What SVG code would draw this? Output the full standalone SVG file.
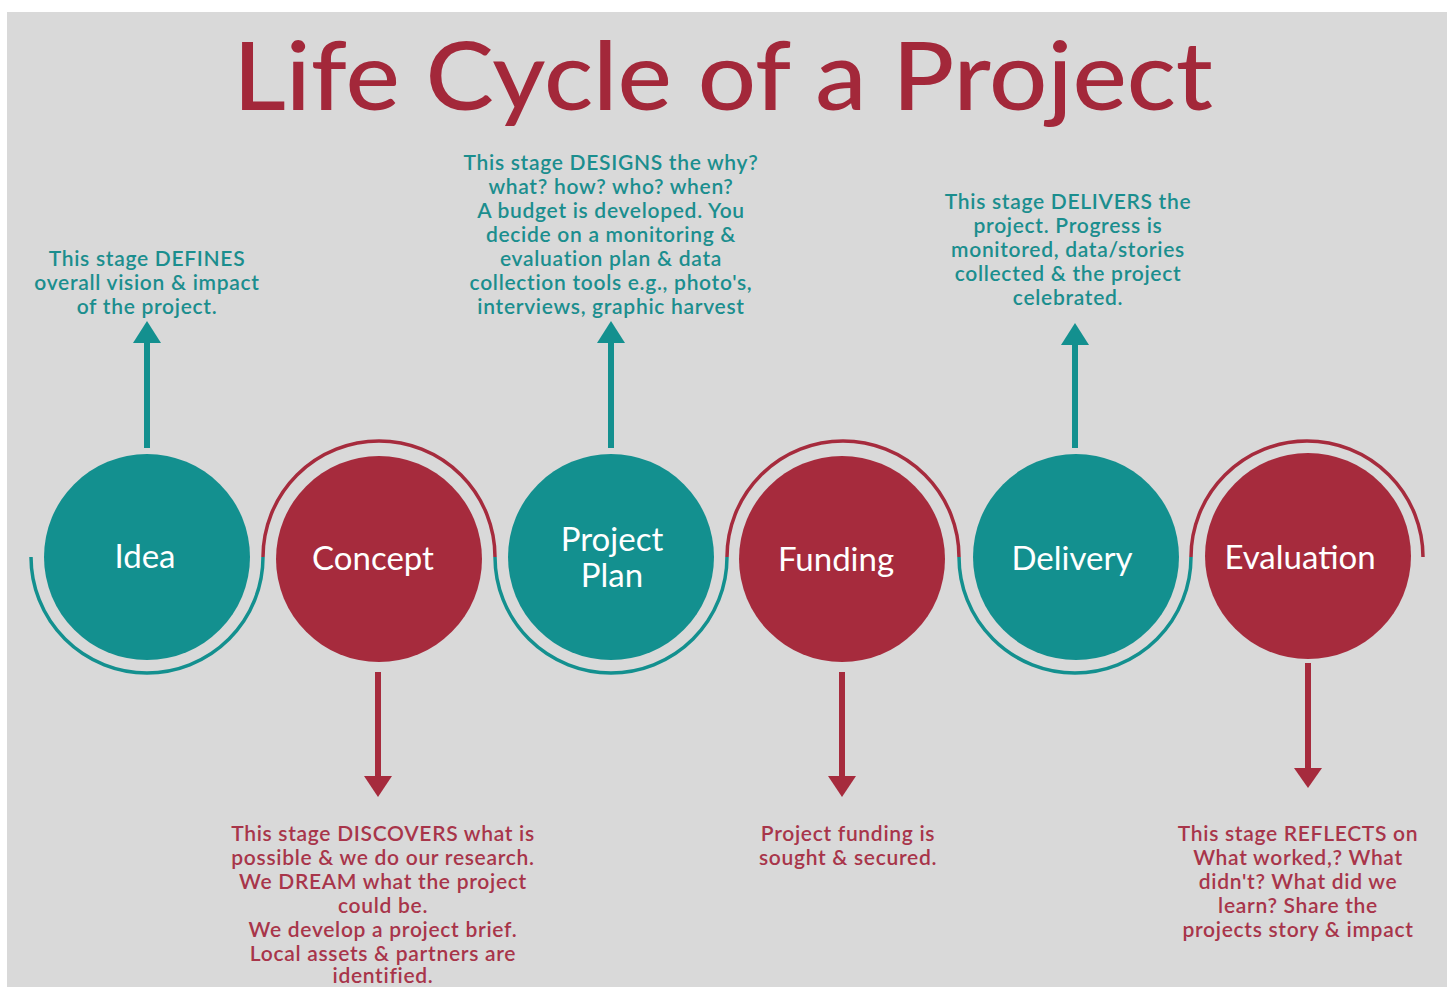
<svg xmlns="http://www.w3.org/2000/svg" width="1452" height="987" viewBox="0 0 1452 987">
<style>
.teal{fill:#13908f}
.red{fill:#a62b3d}
.arcT{fill:none;stroke:#13908f;stroke-width:3.5}
.arcR{fill:none;stroke:#a62b3d;stroke-width:3.5}
.lbl{font-family:Lato,"Open Sans",sans-serif;font-size:33px;fill:#ffffff;text-anchor:middle}
.dt{font-family:Lato,"Noto Sans",sans-serif;font-size:21px;font-weight:600;letter-spacing:0.7px;fill:#1b8e8e;text-anchor:middle}
.dr{font-family:Lato,"Noto Sans",sans-serif;font-size:21px;font-weight:600;letter-spacing:0.7px;fill:#a8354a;text-anchor:middle}
.shT{stroke:#13908f;stroke-width:6}
.shR{stroke:#a62b3d;stroke-width:6}
</style>
<rect x="0" y="0" width="1452" height="987" fill="#ffffff"/>
<rect x="7" y="12" width="1440" height="975" fill="#d9d9d9"/>
<text x="723" y="110" font-family="Lato,'Open Sans',sans-serif" font-size="94" font-weight="500" fill="#a3283a" text-anchor="middle" textLength="980" lengthAdjust="spacingAndGlyphs">Life Cycle of a Project</text>

<g id="connectors">
<path class="arcT" d="M31,557 A116,116 0 0 0 263,557"/>
<path class="arcR" d="M263,557 A116,116 0 0 1 495,557"/>
<path class="arcT" d="M495,557 A116,116 0 0 0 727,557"/>
<path class="arcR" d="M727,557 A116,116 0 0 1 959,557"/>
<path class="arcT" d="M959,557 A116,116 0 0 0 1191,557"/>
<path class="arcR" d="M1191,557 A116,116 0 0 1 1423,557"/>
<line class="shT" x1="147" y1="448" x2="147" y2="338"/>
<polygon class="teal" points="147,321 133,343 161,343"/>
<line class="shT" x1="611" y1="448" x2="611" y2="338"/>
<polygon class="teal" points="611,321 597,343 625,343"/>
<line class="shT" x1="1075" y1="448" x2="1075" y2="338"/>
<polygon class="teal" points="1075,323 1061,345 1089,345"/>
<line class="shR" x1="378" y1="672" x2="378" y2="780"/>
<polygon class="red" points="378,797 364,776 392,776"/>
<line class="shR" x1="842" y1="672" x2="842" y2="780"/>
<polygon class="red" points="842,797 828,776 856,776"/>
<line class="shR" x1="1308" y1="663" x2="1308" y2="772"/>
<polygon class="red" points="1308,788 1294,768 1322,768"/>
</g>

<g id="idea">
<circle class="teal" cx="147" cy="557" r="103"/>
<text class="lbl" x="145" y="568">Idea</text>
<text class="dt" x="147" y="266">This stage DEFINES</text>
<text class="dt" x="147" y="290">overall vision &amp; impact</text>
<text class="dt" x="147" y="314">of the project.</text>
</g>

<g id="concept">
<circle class="red" cx="379" cy="559" r="103"/>
<text class="lbl" x="373" y="570">Concept</text>
<text class="dr" x="383" y="841">This stage DISCOVERS what is</text>
<text class="dr" x="383" y="865">possible &amp; we do our research.</text>
<text class="dr" x="383" y="889">We DREAM what the project</text>
<text class="dr" x="383" y="913">could be.</text>
<text class="dr" x="383" y="937">We develop a project brief.</text>
<text class="dr" x="383" y="961">Local assets &amp; partners are</text>
<text class="dr" x="383" y="983">identified.</text>
</g>

<g id="plan">
<circle class="teal" cx="611" cy="557" r="103"/>
<text class="lbl" x="612" y="551">Project</text>
<text class="lbl" x="612" y="587">Plan</text>
<text class="dt" x="611" y="170">This stage DESIGNS the why?</text>
<text class="dt" x="611" y="194">what? how? who? when?</text>
<text class="dt" x="611" y="218">A budget is developed. You</text>
<text class="dt" x="611" y="242">decide on a monitoring &amp;</text>
<text class="dt" x="611" y="266">evaluation plan &amp; data</text>
<text class="dt" x="611" y="290">collection tools e.g., photo's,</text>
<text class="dt" x="611" y="314">interviews, graphic harvest</text>
</g>

<g id="funding">
<circle class="red" cx="842" cy="559" r="103"/>
<text class="lbl" x="836" y="571">Funding</text>
<text class="dr" x="848" y="841">Project funding is</text>
<text class="dr" x="848" y="865">sought &amp; secured.</text>
</g>

<g id="delivery">
<circle class="teal" cx="1076" cy="557" r="103"/>
<text class="lbl" x="1072" y="570">Delivery</text>
<text class="dt" x="1068" y="209">This stage DELIVERS the</text>
<text class="dt" x="1068" y="233">project. Progress is</text>
<text class="dt" x="1068" y="257">monitored, data/stories</text>
<text class="dt" x="1068" y="281">collected &amp; the project</text>
<text class="dt" x="1068" y="305">celebrated.</text>
</g>

<g id="evaluation">
<circle class="red" cx="1308" cy="556" r="103"/>
<text class="lbl" x="1300" y="569">Evaluation</text>
<text class="dr" x="1298" y="841">This stage REFLECTS on</text>
<text class="dr" x="1298" y="865">What worked,? What</text>
<text class="dr" x="1298" y="889">didn't? What did we</text>
<text class="dr" x="1298" y="913">learn? Share the</text>
<text class="dr" x="1298" y="937">projects story &amp; impact</text>
</g>
</svg>
